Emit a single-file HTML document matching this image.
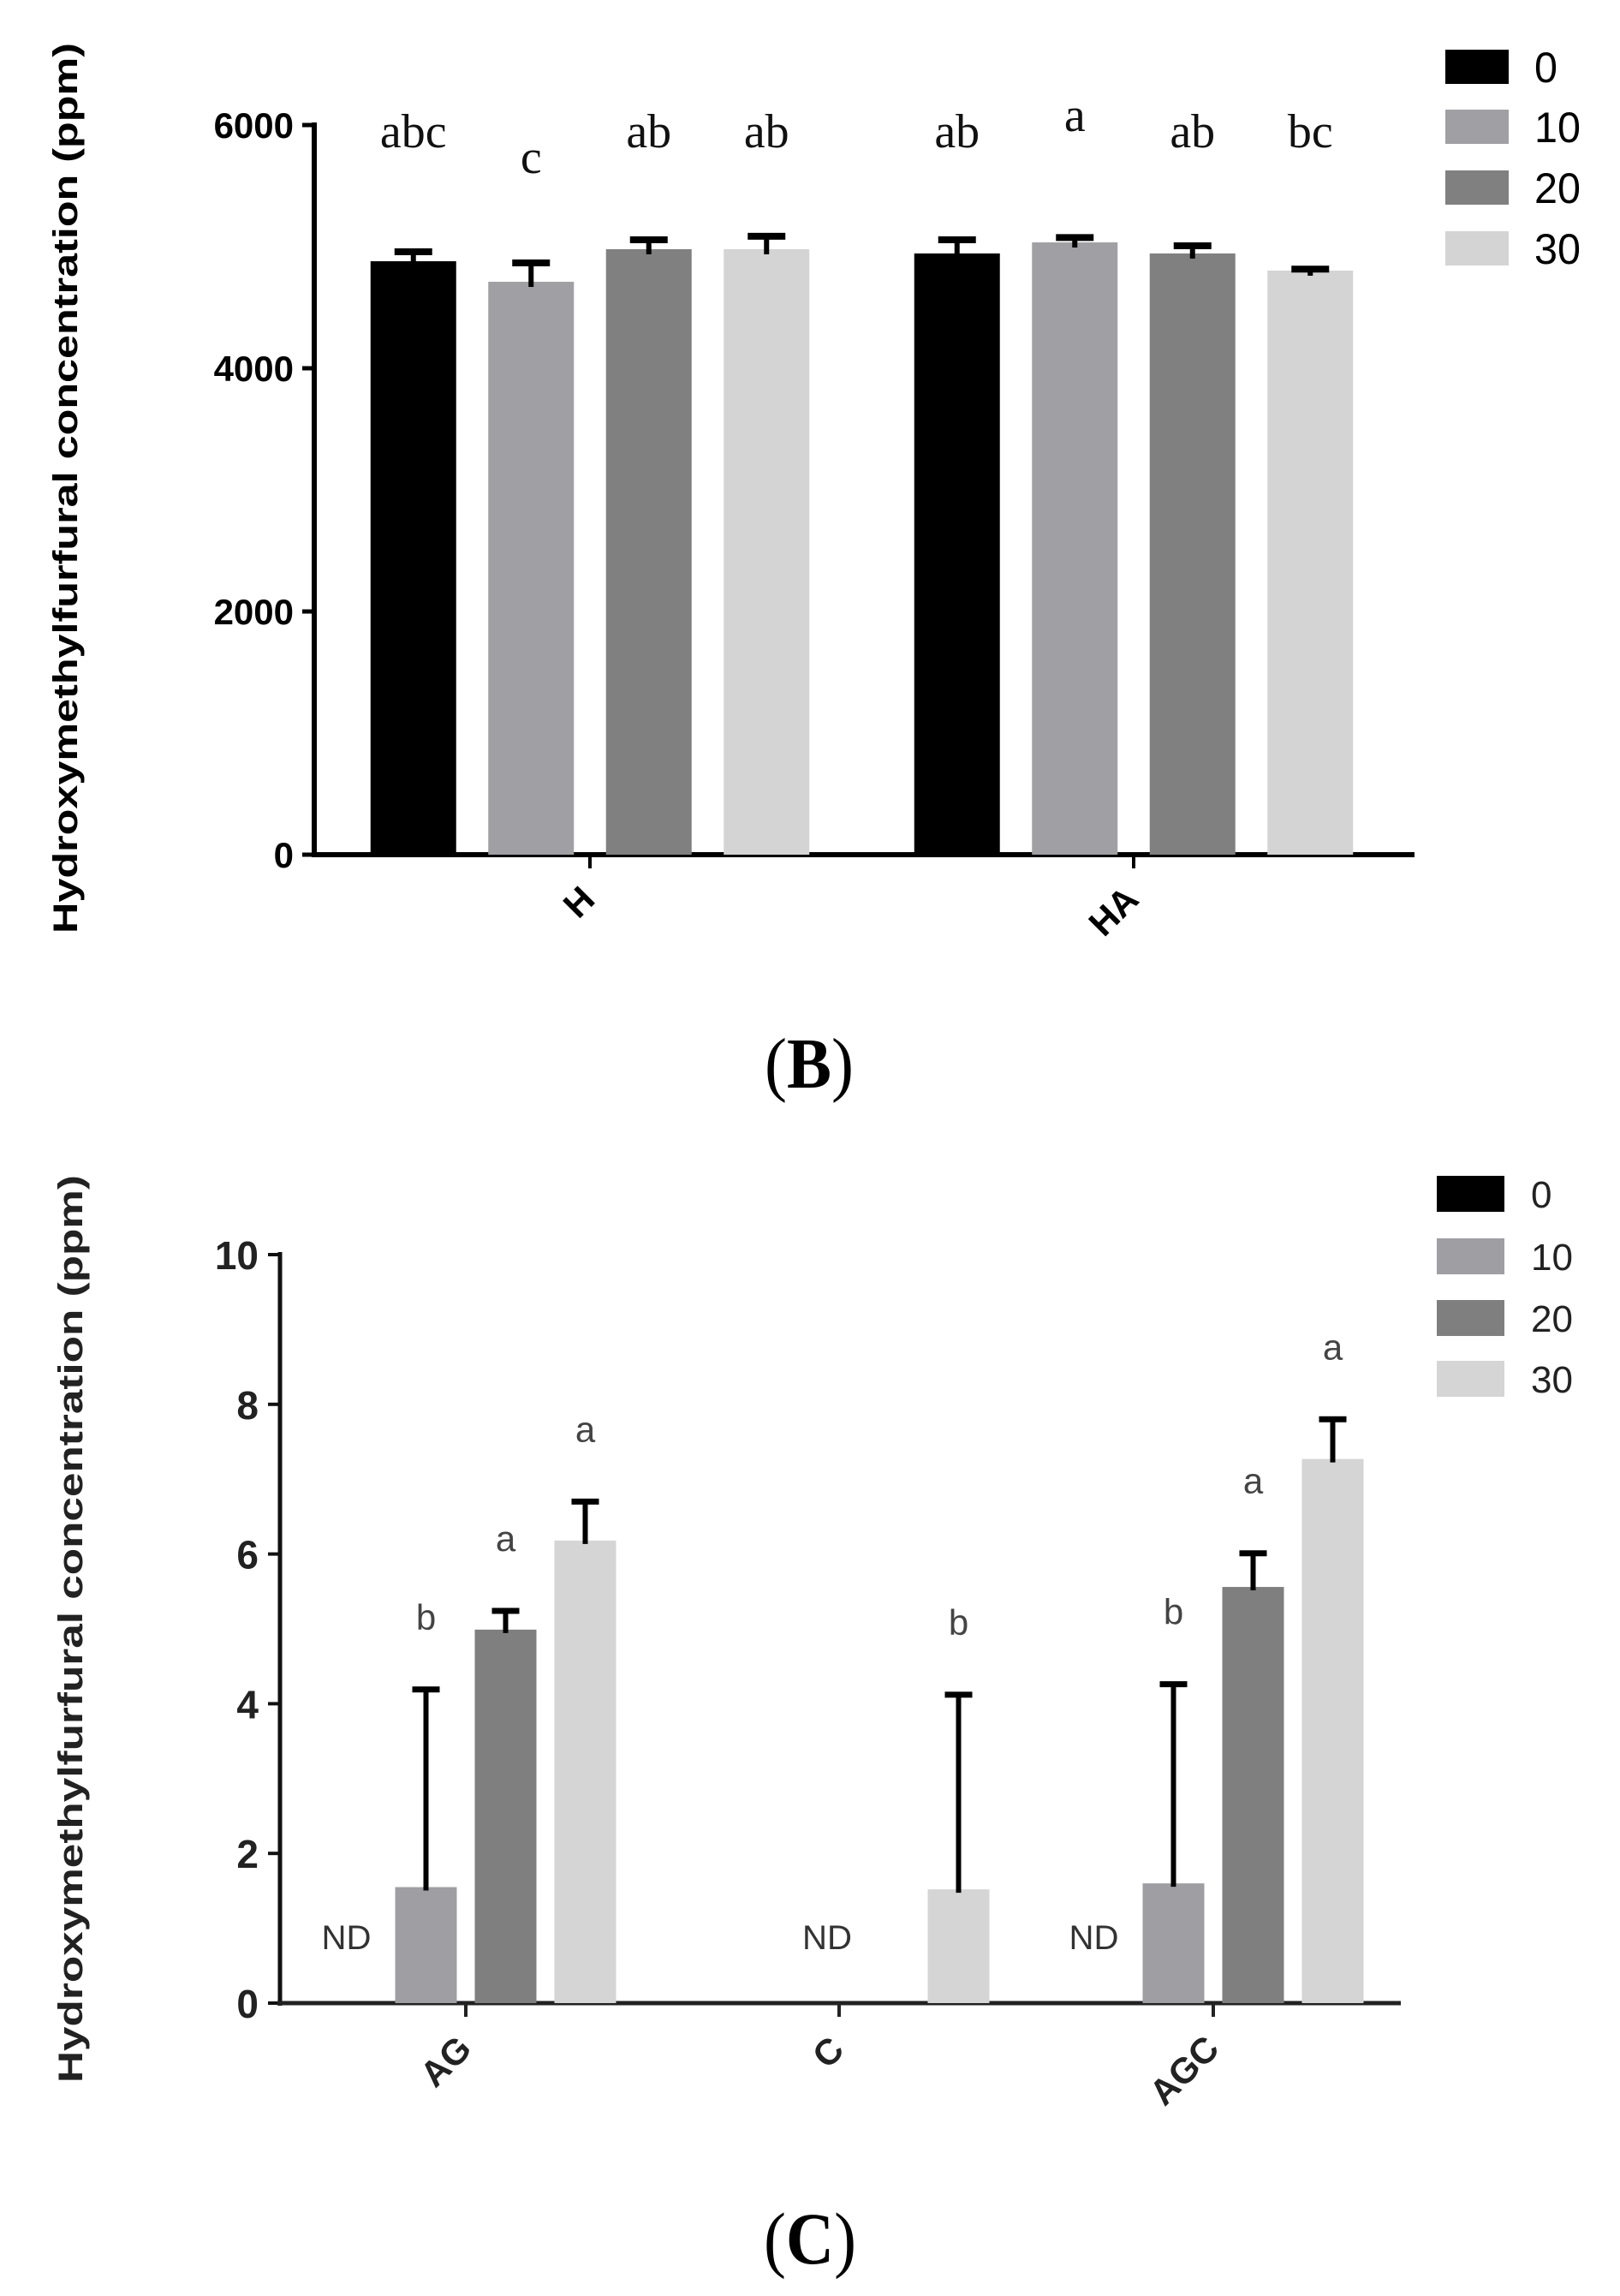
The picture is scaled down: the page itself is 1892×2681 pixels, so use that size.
<!DOCTYPE html>
<html><head><meta charset="utf-8"><style>
html,body{margin:0;padding:0;background:#fff;}
svg{display:block;}
</style></head><body>
<svg id="fig" width="1892" height="2681" viewBox="0 0 1892 2681" xmlns="http://www.w3.org/2000/svg"></svg>
<script>
// ---------- Chart B data ----------
const bCategories = ["H", "HA"];
const bSeriesNames = ["0", "10", "20", "30"];
const bValues0 = [4880, 4944];
const bValues10 = [4711, 5035];
const bValues20 = [4979, 4944];
const bValues30 = [4979, 4803];
const bErr0 = [78, 112];
const bErr10 = [155, 40];
const bErr20 = [77, 63];
const bErr30 = [106, 12];
const bLetters0 = ["abc", "ab"];
const bLetters10 = ["c", "a"];
const bLetters20 = ["ab", "ab"];
const bLetters30 = ["ab", "bc"];
const bTicks = [0, 2000, 4000, 6000];
const bTickLabels = ["0", "2000", "4000", "6000"];

// ---------- Chart C data ----------
const cCategories = ["AG", "C", "AGC"];
const cValues0 = [null, null, null];
const cValues10 = [1.55, null, 1.6];
const cValues20 = [4.99, null, 5.56];
const cValues30 = [6.18, 1.52, 7.27];
const cErr10 = [2.64, 0, 2.66];
const cErr20 = [0.25, 0, 0.45];
const cErr30 = [0.52, 2.6, 0.53];
const cLetters10 = ["b", "", "b"];
const cLetters20 = ["a", "", "a"];
const cLetters30 = ["a", "b", "a"];
const cTicks = [0, 2, 4, 6, 8, 10];
const cTickLabels = ["0", "2", "4", "6", "8", "10"];

const colors = ["#000000", "#a0a0a4", "#808080", "#d4d4d4"];
const NS = "http://www.w3.org/2000/svg";
const svg = document.getElementById("fig");
function mk(tag, attrs, parent, text) {
  const e = document.createElementNS(NS, tag);
  for (const k in attrs) e.setAttribute(k, attrs[k]);
  if (text !== undefined) e.textContent = text;
  (parent || svg).appendChild(e);
  return e;
}

// ================= Chart B =================
const gB = mk("g", {});


const bY0 = 998, bYtop = 146, bMax = 6000;
function byScale(v) { return bY0 - (v / bMax) * (bY0 - bYtop); }
const bAxisX = 367, bAxisEnd = 1652;
const bGroupCenters = [689, 1324];
const bSlot = 137.5, bBarW = 100;
function bxScale(ci, si) { return bGroupCenters[ci] + (si - 1.5) * bSlot; }

let el = mk("line", {x1: bAxisX, y1: bYtop - 3, x2: bAxisX, y2: bY0 + 3, stroke: "#000", "stroke-width": 6}, gB);


bTicks.forEach((t, i) => {
  const y = byScale(t);
  const tk = mk("line", {x1: bAxisX - 14, y1: y, x2: bAxisX, y2: y, stroke: "#000", "stroke-width": 5}, gB);
  
  
  const lb = mk("text", {x: 343, y: y + 15, "text-anchor": "end", "font-family": "Liberation Sans, sans-serif", "font-weight": "bold", "font-size": 42}, gB, bTickLabels[i]);
  
  
});
el = mk("line", {x1: bAxisX - 3, y1: bY0, x2: bAxisEnd, y2: bY0, stroke: "#000", "stroke-width": 6}, gB);



const bVals = [bValues0, bValues10, bValues20, bValues30];
const bErrs = [bErr0, bErr10, bErr20, bErr30];
const bLets = [bLetters0, bLetters10, bLetters20, bLetters30];
bCategories.forEach((cat, ci) => {
  for (let si = 0; si < 4; si++) {
    const cx = bxScale(ci, si);
    const v = bVals[si][ci];
    const top = byScale(v);
    const r = mk("rect", {x: cx - bBarW / 2, y: top, width: bBarW, height: bY0 - top, fill: colors[si]}, gB);
    
    
    const ey = byScale(v + bErrs[si][ci]);
    const eb = mk("line", {x1: cx, y1: top + 6, x2: cx, y2: ey, stroke: "#000", "stroke-width": 6}, gB);
    
    
    const cap = mk("line", {x1: cx - 22, y1: ey, x2: cx + 22, y2: ey, stroke: "#000", "stroke-width": 8}, gB);
    
    
    const letter = bLets[si][ci];
    const ly = letter === "c" ? 202 : (letter === "a" ? 153 : 172);
    const lt = mk("text", {x: cx, y: ly, "text-anchor": "middle", "font-family": "Liberation Serif, serif", "font-size": 56, fill: "#111"}, gB, letter);
    
    
  }
  const gx = bGroupCenters[ci];
  const tk = mk("line", {x1: gx, y1: bY0, x2: gx, y2: bY0 + 16, stroke: "#000", "stroke-width": 4}, gB);
  
  
  const L = cat.length * 30;
  const tx = gx - 0.707 * L / 2 - 2, ty = bY0 + 45 + 0.707 * L / 2;
  const xl = mk("text", {x: tx, y: ty + 14, "text-anchor": "middle", "font-family": "Liberation Sans, sans-serif", "font-weight": "bold", "font-size": 42, transform: "rotate(-45 " + tx + " " + ty + ")"}, gB, cat);
  
  
});
el = mk("text", {x: 0, y: 0, "text-anchor": "middle", "font-family": "Liberation Sans, sans-serif", "font-weight": "bold", "font-size": 40, textLength: 1040, lengthAdjust: "spacingAndGlyphs", transform: "translate(90 570) rotate(-90)"}, gB, "Hydroxymethylfurfural concentration (ppm)");


const bLegY = [78, 148, 219, 290];
bSeriesNames.forEach((n, i) => {
  const g = mk("g", {}, gB);
  
  
  mk("rect", {x: 1688, y: bLegY[i] - 20, width: 74, height: 40, fill: colors[i]}, g);
  mk("text", {x: 1792, y: bLegY[i] + 18, "font-family": "Liberation Sans, sans-serif", "font-size": 50, textLength: n.length * 27, lengthAdjust: "spacingAndGlyphs"}, g, n);
});
el = mk("text", {x: 945, y: 1270, "text-anchor": "middle", "font-family": "Liberation Serif, serif", "font-size": 84, textLength: 104, lengthAdjust: "spacingAndGlyphs"}, gB);


mk("tspan", {}, el, "(");
mk("tspan", {"font-weight": "bold"}, el, "B");
mk("tspan", {}, el, ")");

// ================= Chart C =================
const gC = mk("g", {});


const cY0 = 2339, cYtop = 1465, cMax = 10;
function cyScale(v) { return cY0 - (v / cMax) * (cY0 - cYtop); }
const cAxisX = 327, cAxisEnd = 1636;
const cGroupCenters = [544, 980, 1417];
const cSlot = 93, cBarW = 72;
function cxScale(ci, si) { return cGroupCenters[ci] + (si - 1.5) * cSlot; }
const cc = ["#000000", "#9f9fa3", "#7f7f7f", "#d5d5d5"];

el = mk("line", {x1: cAxisX, y1: cYtop - 3, x2: cAxisX, y2: cY0 + 3, stroke: "#111", "stroke-width": 5}, gC);


cTicks.forEach((t, i) => {
  const y = cyScale(t);
  const tk = mk("line", {x1: cAxisX - 14, y1: y, x2: cAxisX, y2: y, stroke: "#111", "stroke-width": 4}, gC);
  
  
  const lb = mk("text", {x: 302, y: y + 17, "text-anchor": "end", "font-family": "Liberation Sans, sans-serif", "font-weight": "bold", "font-size": 46, fill: "#222"}, gC, cTickLabels[i]);
  
  
});
el = mk("line", {x1: cAxisX - 3, y1: cY0, x2: cAxisEnd, y2: cY0, stroke: "#222", "stroke-width": 5}, gC);



const cVals = [cValues0, cValues10, cValues20, cValues30];
const cErrs = [[0,0,0], cErr10, cErr20, cErr30];
const cLets = [["","",""], cLetters10, cLetters20, cLetters30];
cCategories.forEach((cat, ci) => {
  let ndShown = false;
  for (let si = 0; si < 4; si++) {
    const cx = cxScale(ci, si);
    const v = cVals[si][ci];
    if (v === null) {
      if (!ndShown) {
        ndShown = true;
        let ndx = cx;
        if (cVals[1][ci] === null && cVals[2][ci] === null) ndx = cxScale(ci, 1.35);
        const nd = mk("text", {x: ndx, y: 2276, "text-anchor": "middle", "font-family": "Liberation Sans, sans-serif", "font-size": 40, fill: "#333", textLength: 58, lengthAdjust: "spacingAndGlyphs"}, gC, "ND");
        
        
      }
      continue;
    }
    const top = cyScale(v);
    const r = mk("rect", {x: cx - cBarW / 2, y: top, width: cBarW, height: cY0 - top, fill: cc[si]}, gC);
    
    
    const ey = cyScale(v + cErrs[si][ci]);
    const eb = mk("line", {x1: cx, y1: top + 4, x2: cx, y2: ey, stroke: "#000", "stroke-width": 6}, gC);
    
    
    const cap = mk("line", {x1: cx - 16, y1: ey, x2: cx + 16, y2: ey, stroke: "#000", "stroke-width": 7}, gC);
    
    
    const letter = cLets[si][ci];
    if (letter) {
      const lt = mk("text", {x: cx, y: ey - 70, "text-anchor": "middle", "font-family": "Liberation Sans, sans-serif", "font-size": 42, fill: "#444"}, gC, letter);
      
      
    }
  }
  const gx = cGroupCenters[ci];
  const tk = mk("line", {x1: gx, y1: cY0, x2: gx, y2: cY0 + 16, stroke: "#222", "stroke-width": 4}, gC);
  
  
  const L = cat.length * 30;
  const tx = gx - 0.707 * L / 2 - 2, ty = cY0 + 47 + 0.707 * L / 2;
  const xl = mk("text", {x: tx, y: ty + 14, "text-anchor": "middle", "font-family": "Liberation Sans, sans-serif", "font-weight": "bold", "font-size": 42, fill: "#222", transform: "rotate(-45 " + tx + " " + ty + ")"}, gC, cat);
  
  
});
el = mk("text", {x: 0, y: 0, "text-anchor": "middle", "font-family": "Liberation Sans, sans-serif", "font-weight": "bold", "font-size": 40, fill: "#222", textLength: 1060, lengthAdjust: "spacingAndGlyphs", transform: "translate(96 1902) rotate(-90)"}, gC, "Hydroxymethylfurfural concentration (ppm)");


const cLegY = [1394, 1467, 1539, 1610];
bSeriesNames.forEach((n, i) => {
  const g = mk("g", {}, gC);
  
  
  mk("rect", {x: 1678, y: cLegY[i] - 21, width: 79, height: 42, fill: cc[i]}, g);
  mk("text", {x: 1788, y: cLegY[i] + 16, "font-family": "Liberation Sans, sans-serif", "font-size": 44, fill: "#222"}, g, n);
});
el = mk("text", {x: 946, y: 2643, "text-anchor": "middle", "font-family": "Liberation Serif, serif", "font-size": 86, textLength: 108, lengthAdjust: "spacingAndGlyphs"}, gC);


mk("tspan", {}, el, "(");
mk("tspan", {"font-weight": "bold"}, el, "C");
mk("tspan", {}, el, ")");
</script>
</body></html>
